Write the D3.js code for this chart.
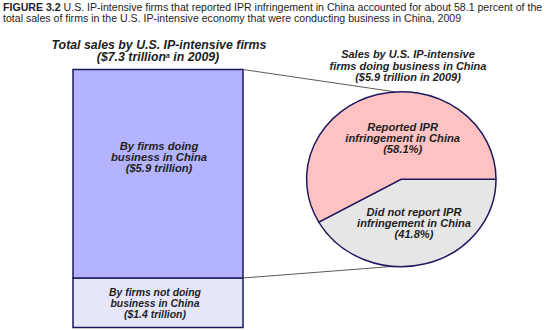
<!DOCTYPE html>
<html><head><meta charset="utf-8">
<script src="https://cdn.jsdelivr.net/npm/d3@7"></script>
<style>
html,body{margin:0;padding:0;background:#fff;}
svg{display:block;font-family:"Liberation Sans",Arial,sans-serif;}
</style></head>
<body><svg id="c" width="550" height="330"></svg>
<script>
// ---- data ----
const titleBold = "FIGURE 3.2";
const titleLines = ["U.S. IP-intensive firms that reported IPR infringement in China accounted for about 58.1 percent of the",
                    "total sales of firms in the U.S. IP-intensive economy that were conducting business in China, 2009"];
const barHeader = ["Total sales by U.S. IP-intensive firms", "($7.3 trillion", "a", " in 2009)"];
const pieHeader = ["Sales by U.S. IP-intensive", "firms doing business in China", "($5.9 trillion in 2009)"];
const categories = ["Not doing business in China", "Doing business in China"];
const salesTrillion = [1.4, 5.9];
const totalTrillion = 7.3;
const barLabelLines = [["By firms not doing", "business in China", "($1.4 trillion)"],
                       ["By firms doing", "business in China", "($5.9 trillion)"]];
const pieCategories = ["Did not report", "Reported"];
const pieShares = [41.8, 58.1];
const pieLabelLines = [["Did not report IPR", "infringement in China", "(41.8%)"],
                       ["Reported IPR", "infringement in China", "(58.1%)"]];

// ---- drawing ----
const svg = d3.select("#c");
const ink = "#1e1e1e";
const navy = "#1c1a5e";

function fitBlock(texts, target) {
  let max = 0;
  texts.each(function(){ max = Math.max(max, this.getComputedTextLength()); });
  const base = parseFloat(texts.attr("font-size"));
  texts.attr("font-size", (base * target / max).toFixed(2));
}

// title
const t1 = svg.append("text").attr("x", 3).attr("y", 11).attr("font-size", 11).attr("fill", ink);
t1.append("tspan").attr("font-weight", "bold").text(titleBold + "  ");
t1.append("tspan").text(titleLines[0]);
const t2 = svg.append("text").attr("x", 3).attr("y", 22).attr("font-size", 11).attr("fill", ink).text(titleLines[1]);
fitBlock(t1, 540);
t2.attr("font-size", t1.attr("font-size"));

// bar (stacked column)
const x0 = 73, x1 = 243;
const y = d3.scaleLinear().domain([0, totalTrillion]).range([327.5, 69.5]);
const stack = [];
let acc = 0;
salesTrillion.forEach((v, i) => { stack.push({cat: categories[i], y0: acc, y1: acc + v, lines: barLabelLines[i]}); acc += v; });
const barFills = ["#e6e6fb", "#b3b3ff"];
svg.selectAll("rect.seg").data(stack).join("rect").attr("class", "seg")
  .attr("x", x0).attr("width", x1 - x0)
  .attr("y", d => y(d.y1)).attr("height", d => y(d.y0) - y(d.y1))
  .attr("fill", (d, i) => barFills[i]).attr("stroke", navy).attr("stroke-width", 1.5);

// bar header
const bh1 = svg.append("text").attr("x", 159).attr("y", 48.5).attr("text-anchor", "middle")
  .attr("font-size", 11).attr("font-weight", "bold").attr("font-style", "italic").attr("fill", ink).text(barHeader[0]);
fitBlock(bh1, 215);
const bfs = +bh1.attr("font-size");
const bh2 = svg.append("text").attr("x", 158).attr("y", 48.5 + bfs + 0.6).attr("text-anchor", "middle")
  .attr("font-size", bfs).attr("font-weight", "bold").attr("font-style", "italic").attr("fill", ink);
bh2.append("tspan").text(barHeader[1]);
bh2.append("tspan").attr("font-size", bfs * 0.55).attr("dy", -3.5).text(barHeader[2]);
bh2.append("tspan").attr("dy", 3.5).text(barHeader[3]);

// bar labels
const barLabelPos = [{cx: 155, y0: y(0) - 31.5, w: 92}, {cx: 159, y0: y(totalTrillion) + 80.5, w: 96}];
stack.forEach((d, i) => {
  const p = barLabelPos[i];
  const tx = svg.append("g").selectAll("text").data(d.lines).join("text")
    .attr("x", p.cx).attr("y", (l, j) => p.y0 + j * 11).attr("text-anchor", "middle")
    .attr("font-size", 10).attr("font-weight", "bold").attr("font-style", "italic").attr("fill", ink)
    .text(l => l);
  fitBlock(tx, p.w);
});

// pie (ellipse)
const cx = 401.3, cy = 179.2, rx = 94.7, ry = 87.5;
const pie = d3.pie().sort(null).startAngle(Math.PI / 2).endAngle(Math.PI / 2 + 2 * Math.PI);
const arcs = pie(pieShares);
const arc = d3.arc().innerRadius(0).outerRadius(rx);
const pieFills = ["#e6e6e6", "#ffc2c2"];

// connector lines
function ellPt(dx, side) { return [cx + dx, cy + side * ry * Math.sqrt(1 - (dx / rx) * (dx / rx))]; }
const conns = [[[x1, y(totalTrillion)], ellPt(-6, -1)], [[x1, y(salesTrillion[0])], ellPt(-8, 1)]];
svg.selectAll("line.conn").data(conns).join("line").attr("class", "conn")
  .attr("x1", d => d[0][0]).attr("y1", d => d[0][1]).attr("x2", d => d[1][0]).attr("y2", d => d[1][1])
  .attr("stroke", "#5a5a5a").attr("stroke-width", 1);

const pg = svg.append("g").attr("transform", `translate(${cx},${cy}) scale(1,${ry / rx})`);
pg.selectAll("path").data(arcs).join("path")
  .attr("d", arc).attr("fill", (d, i) => pieFills[i])
  .attr("stroke", navy).attr("stroke-width", 1.5).attr("vector-effect", "non-scaling-stroke")
  .attr("stroke-linejoin", "round");

// pie header
const ph = svg.append("g").selectAll("text").data(pieHeader).join("text")
  .attr("x", 408).attr("y", (l, j) => 58 + j * 11.5).attr("text-anchor", "middle")
  .attr("font-size", 10).attr("font-weight", "bold").attr("font-style", "italic").attr("fill", ink).text(l => l);
fitBlock(ph, 157);

// pie labels
const pieLabelPos = [{cx: 414, y0: 215.5, w: 114}, {cx: 402.7, y0: 130.5, w: 114.7}];
arcs.forEach((a, i) => {
  const p = pieLabelPos[i];
  const tx = svg.append("g").selectAll("text").data(pieLabelLines[i]).join("text")
    .attr("x", p.cx).attr("y", (l, j) => p.y0 + j * 11.3).attr("text-anchor", "middle")
    .attr("font-size", 10).attr("font-weight", "bold").attr("font-style", "italic").attr("fill", ink)
    .text(l => l);
  fitBlock(tx, p.w);
});
</script></body></html>
